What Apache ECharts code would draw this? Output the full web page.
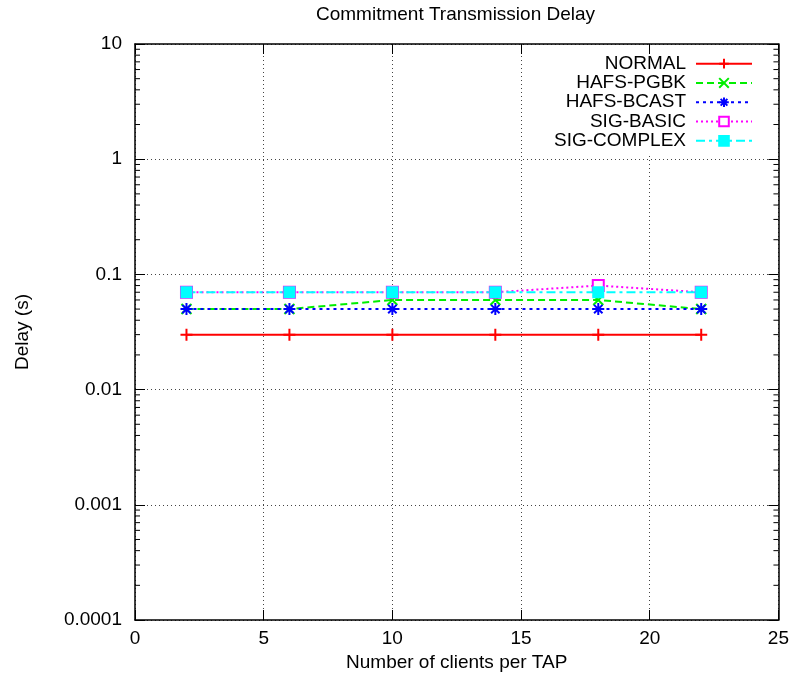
<!DOCTYPE html>
<html>
<head>
<meta charset="utf-8">
<script src="https://cdn.jsdelivr.net/npm/echarts@6/dist/echarts.min.js"></script>
<style>html,body{margin:0;padding:0;background:#fff;}#c{width:792px;height:682px;}</style>
</head>
<body>
<div id="c"></div>
<script>
const xValues = [2, 6, 10, 14, 18, 22];
const normal = [0.03, 0.03, 0.03, 0.03, 0.03, 0.03];
const hafsPgbk = [0.05, 0.05, 0.06, 0.06, 0.06, 0.05];
const hafsBcast = [0.05, 0.05, 0.05, 0.05, 0.05, 0.05];
const sigBasic = [0.07, 0.07, 0.07, 0.07, 0.08, 0.07];
const sigComplex = [0.07, 0.07, 0.07, 0.07, 0.07, 0.07];
const yTickValues = [0.0001, 0.001, 0.01, 0.1, 1, 10];
const yTickLabels = ['0.0001', '0.001', '0.01', '0.1', '1', '10'];
const seriesNames = ['NORMAL', 'HAFS-PGBK', 'HAFS-BCAST', 'SIG-BASIC', 'SIG-COMPLEX'];

const FONT = "'Liberation Sans', Arial, sans-serif";
const pair = arr => xValues.map((x, i) => [x, arr[i]]);

function fmtY(v) {
  const e = Math.round(Math.log10(v));
  for (let i = 0; i < yTickValues.length; i++) {
    if (Math.round(Math.log10(yTickValues[i])) === e) return yTickLabels[i];
  }
  return '';
}

function mk(name, data, color, dash, symbol, size, fillColor) {
  return {
    name: name, type: 'line', data: pair(data),
    symbol: symbol, symbolSize: size,
    lineStyle: { color: color, width: 2, type: dash },
    itemStyle: { color: fillColor || color, borderColor: color, borderWidth: 2 },
    emphasis: { disabled: true },
    animation: false
  };
}

const chart = echarts.init(document.getElementById('c'), null, { renderer: 'canvas' });
const axisTextStyle = { color: '#000', fontSize: 19, fontFamily: FONT };
const option = {
  backgroundColor: '#fff',
  animation: false,
  textStyle: { fontFamily: FONT },
  title: {
    text: 'Commitment Transmission Delay',
    left: 316, top: 5, padding: 0,
    textStyle: { color: '#000', fontSize: 19, fontWeight: 'normal', fontFamily: FONT }
  },
  legend: {
    data: seriesNames,
    orient: 'vertical',
    right: 24, top: 46,
    padding: [8, 15, 4, 21],
    backgroundColor: '#fff',
    align: 'right',
    itemWidth: 56, itemHeight: 12, itemGap: 0,
    textStyle: { color: '#000', fontSize: 19, fontFamily: FONT, lineHeight: 19.3, padding: [0, 5, 0, 0] },
    selectedMode: false
  },
  grid: { left: 135, right: 13, top: 44, bottom: 62 },
  xAxis: [{
    type: 'value', min: 0, max: 25, interval: 5, position: 'bottom',
    name: 'Number of clients per TAP', nameLocation: 'middle', nameGap: 26,
    nameTextStyle: axisTextStyle,
    axisLine: { show: true, onZero: false, lineStyle: { color: '#000', width: 1.5 } },
    axisTick: { show: true, inside: true, length: 10, lineStyle: { color: '#000', width: 1 } },
    axisLabel: { color: '#000', fontSize: 19, fontFamily: FONT, margin: 9 },
    splitLine: { show: true, lineStyle: { color: '#444', width: 1, type: [1, 3] } }
  }, {
    type: 'value', min: 0, max: 25, interval: 5, position: 'top', z: 10,
    axisLine: { show: true, onZero: false, lineStyle: { color: '#000', width: 1.5 } },
    axisTick: { show: true, inside: true, length: 10, lineStyle: { color: '#000', width: 1 } },
    axisLabel: { show: false }, splitLine: { show: false }
  }],
  yAxis: [{
    type: 'log', logBase: 10, min: 0.0001, max: 10, position: 'left',
    name: 'Delay (s)', nameLocation: 'middle', nameGap: 103, nameRotate: 90,
    nameTextStyle: axisTextStyle,
    axisLine: { show: true, onZero: false, lineStyle: { color: '#000', width: 1.5 } },
    axisTick: { show: true, inside: true, length: 10, lineStyle: { color: '#000', width: 1 } },
    axisLabel: { color: '#000', fontSize: 19, fontFamily: FONT, margin: 13, formatter: fmtY },
    splitLine: { show: true, lineStyle: { color: '#444', width: 1, type: [1, 3] } }
  }, {
    type: 'log', logBase: 10, min: 0.0001, max: 10, position: 'right', z: 10,
    axisLine: { show: true, onZero: false, lineStyle: { color: '#000', width: 1.5 } },
    axisTick: { show: true, inside: true, length: 10, lineStyle: { color: '#000', width: 1 } },
    axisLabel: { show: false }, splitLine: { show: false }
  }],
  series: [
    mk('NORMAL', normal, '#ff0000', 'solid', 'path://M5,0L5,10M0,5L10,5', 12),
    mk('HAFS-PGBK', hafsPgbk, '#00ee00', [7, 4], 'path://M0,0L10,10M0,10L10,0', 10),
    mk('HAFS-BCAST', hafsBcast, '#0000ff', [3, 4], 'path://M5,0L5,10M0,5L10,5M1.5,1.5L8.5,8.5M1.5,8.5L8.5,1.5', 12),
    mk('SIG-BASIC', sigBasic, '#ff00ff', [2, 3], 'emptyRect', 11),
    mk('SIG-COMPLEX', sigComplex, '#00ffff', [9, 4, 3, 4], 'rect', 10)
  ]
};
chart.setOption(option);

// gnuplot-style minor ticks at 2..9 within each decade (positions from the library's scale)
const gEls = [];
const xl = chart.convertToPixel({ xAxisIndex: 0 }, 0);
const xr = chart.convertToPixel({ xAxisIndex: 0 }, 25);
for (let d = -4; d <= 0; d++) {
  for (let m = 2; m <= 9; m++) {
    const y = chart.convertToPixel({ yAxisIndex: 0 }, m * Math.pow(10, d));
    gEls.push({ type: 'line', z: 20, silent: true, shape: { x1: xl, y1: y, x2: xl + 5, y2: y }, style: { stroke: '#000', lineWidth: 1 } });
    gEls.push({ type: 'line', z: 20, silent: true, shape: { x1: xr - 5, y1: y, x2: xr, y2: y }, style: { stroke: '#000', lineWidth: 1 } });
  }
}
chart.setOption({ graphic: gEls });
</script>
</body>
</html>
